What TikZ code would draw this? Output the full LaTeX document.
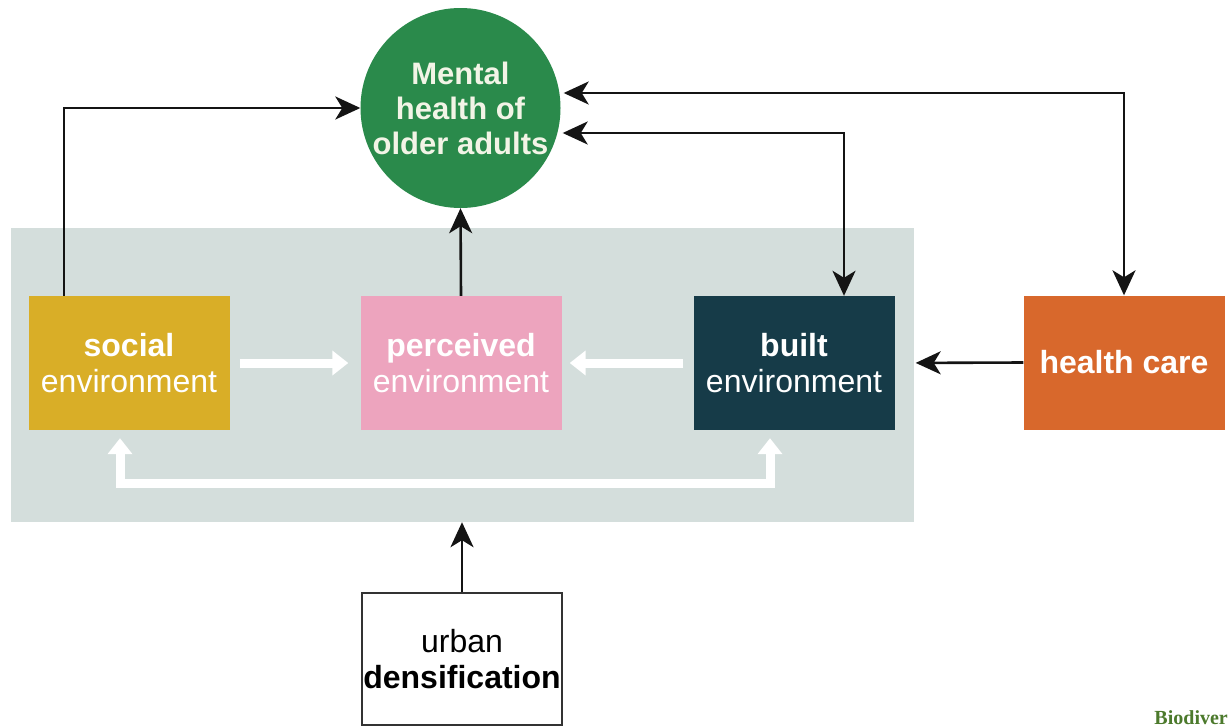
\documentclass[tikz,border=0pt]{standalone}
\usepackage{fontspec}
\setmainfont{Liberation Sans}
\newfontfamily\serifbio{Liberation Serif}
\usetikzlibrary{arrows.meta,calc}
\definecolor{socialc}{HTML}{D9AE27}
\definecolor{percc}{HTML}{EDA4BE}
\definecolor{builtc}{HTML}{163B48}
\definecolor{hcc}{HTML}{D8682C}
\definecolor{mhc}{HTML}{2A8A4B}
\definecolor{panelc}{HTML}{D4DEDC}
\definecolor{biogreen}{HTML}{4C7A2C}
\definecolor{mhtext}{HTML}{F2F4E6}
\begin{document}
\begin{tikzpicture}[x=1pt,y=-1pt,
  box/.style={rectangle, minimum width=201pt, minimum height=134pt, inner sep=0pt,
    align=center, font=\fontsize{32}{36}\selectfont, text=white},
  panelbox/.style={rectangle, fill=panelc, minimum width=903pt, minimum height=294pt, inner sep=0pt},
  blk/.style={line width=2.6pt, draw=black!92, -{Stealth[length=25pt,width=23pt,inset=7pt]}},
  blkboth/.style={line width=2.6pt, draw=black!92, {Stealth[length=25pt,width=23pt,inset=7pt]}-{Stealth[length=25pt,width=23pt,inset=7pt]}},
  wht/.style={draw=white, line width=9pt, -{Triangle[length=16pt,width=24pt]}},
  whtboth/.style={draw=white, line width=9pt, {Triangle[length=16pt,width=24pt]}-{Triangle[length=16pt,width=24pt]}}
]
\clip (0,0) rectangle (1229,728);
\fill[white] (0,0) rectangle (1229,728);

\node[panelbox] (panel) at (462,375) {};

\node[box, fill=socialc] (social) at (129,363) {\textbf{social}\\environment};
\node[box, fill=percc] (perceived) at (461,363) {\textbf{perceived}\\environment};
\node[box, fill=builtc] (built) at (794,363) {\textbf{built}\\environment};
\node[box, fill=hcc] (hc) at (1124,362.5) {\textbf{health care}};
\node[box, fill=white, draw=black!80, line width=1.2pt, text=black, minimum width=200pt, minimum height=132pt]
  (urban) at (462,659) {urban\\\textbf{densification}};

\node[circle, fill=mhc, minimum size=200pt, inner sep=0pt, align=center, text=mhtext,
  font=\bfseries\fontsize{31}{35}\selectfont] (mh) at (460.5,108) {Mental\\health of\\older adults};

% black connectors
\draw[blk] ([xshift=-65pt]social.north) |- (mh.west);
\draw[blk] (perceived.north) -- (mh.south);
\draw[blkboth] (hc.north) |- ([yshift=15pt,xshift=3pt]mh.east);
\draw[blkboth] ([xshift=50pt]built.north) |- ([yshift=-25pt,xshift=2pt]mh.east);
\draw[blk, shorten >=21pt] (hc.west) -- (built.east);
\draw[blk] (urban.north) -- (panel.south);

% white connectors
\draw[wht] ([xshift=10pt]social.east) -- ([xshift=-12pt]perceived.west);
\draw[wht] ([xshift=-10pt]built.west) -- ([xshift=8pt]perceived.east);
\draw[whtboth] ([xshift=-9pt,yshift=-8pt]social.south) -- ++(0,45) -| ([xshift=-24pt,yshift=-8pt]built.south);

\node[anchor=base east, inner sep=0pt, text=biogreen, font=\serifbio\bfseries\fontsize{20}{24}\selectfont]
  (bio) at (1228,724) {Biodiver};
\end{tikzpicture}
\end{document}
